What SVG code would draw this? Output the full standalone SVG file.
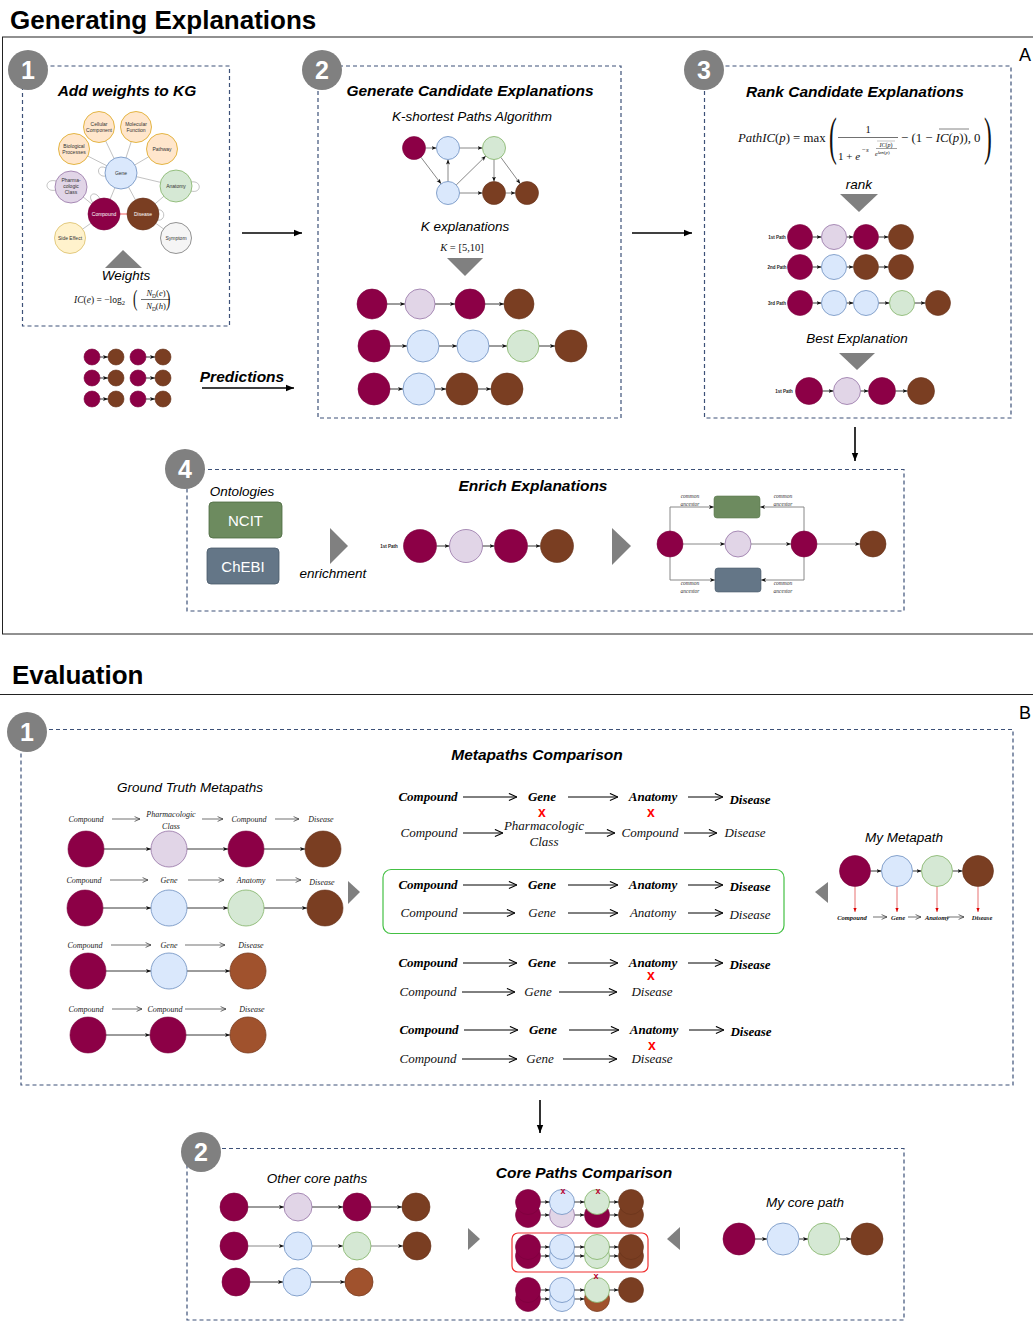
<svg xmlns="http://www.w3.org/2000/svg" width="1033" height="1338" viewBox="0 0 1033 1338">
<defs>
<style>
.sans{font-family:"Liberation Sans",Arial,sans-serif}
.serif{font-family:"Liberation Serif","Times New Roman",serif}
.h1{font-family:"Liberation Sans",Arial,sans-serif;font-size:26px;font-weight:bold;fill:#000}
.ttl{font-family:"Liberation Sans",Arial,sans-serif;font-size:15.5px;font-weight:bold;font-style:italic;text-anchor:middle;fill:#000}
.sub{font-family:"Liberation Sans",Arial,sans-serif;font-size:13.5px;font-style:italic;text-anchor:middle;fill:#000}
.dash{fill:none;stroke:#3d5178;stroke-width:1.2;stroke-dasharray:4 3}
.badge circle{fill:#808080}
.badge text{font-family:"Liberation Sans",Arial,sans-serif;font-size:25px;font-weight:bold;fill:#fff;text-anchor:middle}
.tri{fill:#808080}
.cmp{fill:#8c0046;stroke:#7a003d;stroke-width:0.6}
.dis{fill:#7a3e22;stroke:#66331b;stroke-width:0.6}
.dis2{fill:#a0522d;stroke:#7a3e22;stroke-width:0.8}
.gen{fill:#dae8fc;stroke:#6c8ebf;stroke-width:0.8}
.pha{fill:#e1d5e7;stroke:#9673a6;stroke-width:0.8}
.ana{fill:#d5e8d4;stroke:#82b366;stroke-width:0.8}
.org{fill:#ffe6cc;stroke:#d79b00;stroke-width:0.7}
.yel{fill:#fff2cc;stroke:#d6b656;stroke-width:0.7}
.gry{fill:#f5f5f5;stroke:#666;stroke-width:0.7}
.kgt{font-family:"Liberation Sans",Arial,sans-serif;font-size:5px;fill:#333;text-anchor:middle}
.e{stroke:#222;stroke-width:0.9;fill:none;marker-end:url(#ah)}
.eg{stroke:#888;stroke-width:1;fill:none;marker-end:url(#ah)}
.kge{stroke:#999;stroke-width:0.6;fill:none}
.big{stroke:#000;stroke-width:1.6;fill:none;marker-end:url(#bah)}
.oa{stroke:#000;stroke-width:1;fill:none;marker-end:url(#oah)}
.oas{stroke:#333;stroke-width:0.7;fill:none;marker-end:url(#oahs)}
.mb{font-family:"Liberation Serif","Times New Roman",serif;font-size:13px;font-weight:bold;font-style:italic;text-anchor:middle;fill:#000}
.mn{font-family:"Liberation Serif","Times New Roman",serif;font-size:13px;font-style:italic;text-anchor:middle;fill:#111}
.gt{font-family:"Liberation Serif","Times New Roman",serif;font-size:8px;font-style:italic;text-anchor:middle;fill:#222}
.tiny{font-family:"Liberation Sans",Arial,sans-serif;font-size:4.5px;font-weight:bold;text-anchor:middle;fill:#222}
.rx{font-family:"Liberation Sans",Arial,sans-serif;font-size:14px;font-weight:bold;fill:#f00;text-anchor:middle}
.rxs{font-family:"Liberation Sans",Arial,sans-serif;font-size:9px;font-weight:bold;fill:#b8002e;text-anchor:middle}
.ca{font-family:"Liberation Serif","Times New Roman",serif;font-size:5.5px;font-style:italic;fill:#333;text-anchor:middle}
.fm{font-family:"Liberation Serif","Times New Roman",serif;fill:#111}
</style>
<marker id="ah" viewBox="0 0 10 10" refX="10" refY="5" markerWidth="5" markerHeight="5" markerUnits="userSpaceOnUse" orient="auto"><path d="M0,1 L10,5 L0,9 L2.5,5 z" fill="#111"/></marker>
<marker id="bah" viewBox="0 0 10 10" refX="10" refY="5" markerWidth="8" markerHeight="8" markerUnits="userSpaceOnUse" orient="auto"><path d="M0,1 L10,5 L0,9 z" fill="#000"/></marker>
<marker id="oah" viewBox="0 0 10 10" refX="10" refY="5" markerWidth="9" markerHeight="9" markerUnits="userSpaceOnUse" orient="auto"><path d="M1,1 L10,5 L1,9" fill="none" stroke="#000" stroke-width="1.2"/></marker>
<marker id="oahs" viewBox="0 0 10 10" refX="10" refY="5" markerWidth="6" markerHeight="6" markerUnits="userSpaceOnUse" orient="auto"><path d="M1,1 L10,5 L1,9" fill="none" stroke="#333" stroke-width="1.2"/></marker>
<marker id="rah" viewBox="0 0 10 10" refX="10" refY="5" markerWidth="4" markerHeight="4" markerUnits="userSpaceOnUse" orient="auto"><path d="M0,1 L10,5 L0,9 z" fill="#d00"/></marker>
</defs>
<rect width="1033" height="1338" fill="#fff"/>

<g id="section-A">
<text class="h1" x="10" y="29">Generating Explanations</text>
<rect x="2.5" y="37" width="1040" height="597" fill="none" stroke="#222" stroke-width="1"/>
<text class="sans" x="1019" y="61" font-size="18">A</text>
</g>
<g id="section-B">
<text class="h1" x="12" y="684">Evaluation</text>
<line x1="0" y1="694.5" x2="1033" y2="694.5" stroke="#222" stroke-width="1"/>
<text class="sans" x="1019" y="719" font-size="18">B</text>
</g>

<g id="panels">
<rect class="dash" x="22.5" y="66" width="207" height="260"/>
<rect class="dash" x="318" y="66" width="303" height="352"/>
<rect class="dash" x="704.5" y="66" width="306.5" height="352"/>
<rect class="dash" x="187" y="469.5" width="717" height="141.5"/>
<rect class="dash" x="21" y="729.5" width="992" height="355.5"/>
<rect class="dash" x="187" y="1148.5" width="717" height="171.5"/>
</g>

<g id="connectors">
<line class="big" x1="242" y1="233" x2="302" y2="233"/>
<line class="big" x1="632" y1="233" x2="692" y2="233"/>
<line class="big" x1="202" y1="388" x2="294" y2="388"/>
<line class="big" x1="855" y1="427" x2="855" y2="461"/>
<line class="big" x1="540" y1="1100" x2="540" y2="1133"/>

<g class="kge">
<line x1="121" y1="173" x2="99" y2="127"/>
<line x1="121" y1="173" x2="136" y2="127"/>
<line x1="121" y1="173" x2="74" y2="149"/>
<line x1="121" y1="173" x2="162" y2="149"/>
<line x1="121" y1="173" x2="176" y2="186"/>
<line x1="121" y1="173" x2="104" y2="214"/>
<line x1="121" y1="173" x2="143" y2="214"/>
<line x1="71" y1="187" x2="104" y2="214"/>
<line x1="70" y1="238" x2="104" y2="214"/>
<line x1="176" y1="186" x2="143" y2="214"/>
<line x1="176" y1="238" x2="143" y2="214"/>
<path d="M106,168 C96,163 96,178 106,176"/>
<path d="M56,181 C44,178 44,193 56,190"/>
<path d="M191,182 C202,180 202,194 191,191"/>
<path d="M93,203 C86,194 96,190 100,199"/>
<path d="M157,210 C166,208 166,222 157,220"/>
</g>
<line x1="120" y1="214" x2="127" y2="214" stroke="#e33" stroke-width="0.8"/>

<line class="eg" x1="425.5" y1="148" x2="436.5" y2="148"/>
<line class="eg" x1="459.5" y1="148" x2="482.5" y2="148"/>
<line class="eg" x1="420.9" y1="157.2" x2="441.1" y2="183.8"/>
<line class="eg" x1="448" y1="181.5" x2="448" y2="159.5"/>
<line class="eg" x1="456.2" y1="185" x2="485.8" y2="156"/>
<line class="eg" x1="459.5" y1="193" x2="482.5" y2="193"/>
<line class="eg" x1="494" y1="159.5" x2="494" y2="181.5"/>
<line class="eg" x1="500.8" y1="157.3" x2="520.2" y2="183.7"/>
<line class="eg" x1="505.5" y1="193" x2="515.5" y2="193"/>
<line class="e" stroke-width="1.4" x1="387" y1="304" x2="405" y2="304"/>
<line class="e" stroke-width="1.4" x1="435" y1="304" x2="455" y2="304"/>
<line class="e" stroke-width="1.4" x1="485" y1="304" x2="504" y2="304"/>
<line class="e" x1="390" y1="346" x2="407" y2="346"/>
<line class="e" x1="439" y1="346" x2="457" y2="346"/>
<line class="e" x1="489" y1="346" x2="507" y2="346"/>
<line class="e" x1="539" y1="346" x2="555" y2="346"/>
<line class="e" x1="390" y1="389" x2="403" y2="389"/>
<line class="e" x1="435" y1="389" x2="446" y2="389"/>
<line class="e" x1="478" y1="389" x2="491" y2="389"/>
<line class="e" x1="812.5" y1="237" x2="821.5" y2="237"/>
<line class="e" x1="846.5" y1="237" x2="853.5" y2="237"/>
<line class="e" x1="878.5" y1="237" x2="888.5" y2="237"/>
<line class="e" x1="812.5" y1="267" x2="821.5" y2="267"/>
<line class="e" x1="846.5" y1="267" x2="853.5" y2="267"/>
<line class="e" x1="878.5" y1="267" x2="888.5" y2="267"/>
<line class="e" x1="812.5" y1="303" x2="821.5" y2="303"/>
<line class="e" x1="846.5" y1="303" x2="853.5" y2="303"/>
<line class="e" x1="878.5" y1="303" x2="889.5" y2="303"/>
<line class="e" x1="914.5" y1="303" x2="925.5" y2="303"/>
<line class="e" x1="822.5" y1="391" x2="833.5" y2="391"/>
<line class="e" x1="860.5" y1="391" x2="868.5" y2="391"/>
<line class="e" x1="895.5" y1="391" x2="907.5" y2="391"/>
<line class="e" x1="100" y1="357" x2="108" y2="357"/>
<line class="e" x1="146" y1="357" x2="155" y2="357"/>
<line class="e" x1="100" y1="378" x2="108" y2="378"/>
<line class="e" x1="146" y1="378" x2="155" y2="378"/>
<line class="e" x1="100" y1="399" x2="108" y2="399"/>
<line class="e" x1="146" y1="399" x2="155" y2="399"/>
<line class="e" x1="436.5" y1="546" x2="449.5" y2="546"/>
<line class="e" x1="482.5" y1="546" x2="494.5" y2="546"/>
<line class="e" x1="527.5" y1="546" x2="540.5" y2="546"/>
<line class="eg" x1="683" y1="544" x2="725" y2="544"/>
<line class="eg" x1="751" y1="544" x2="791" y2="544"/>
<line class="eg" x1="817" y1="544" x2="860" y2="544"/>
<path class="eg" d="M670,531 V507 H714"/>
<path class="eg" d="M804,531 V507 H760"/>
<path class="eg" d="M670,557 V580 H715"/>
<path class="eg" d="M804,557 V580 H761"/>

<line class="e" x1="104" y1="849" x2="151" y2="849"/>
<line class="e" x1="187" y1="849" x2="228" y2="849"/>
<line class="e" x1="264" y1="849" x2="305" y2="849"/>
<line class="e" x1="103" y1="908" x2="151" y2="908"/>
<line class="e" x1="187" y1="908" x2="228" y2="908"/>
<line class="e" x1="264" y1="908" x2="307" y2="908"/>
<line class="e" x1="106" y1="971" x2="151" y2="971"/>
<line class="e" x1="187" y1="971" x2="230" y2="971"/>
<line class="e" x1="106" y1="1035" x2="150" y2="1035"/>
<line class="e" x1="186" y1="1035" x2="230" y2="1035"/>
<g>
<line class="oas" x1="112" y1="819" x2="140" y2="819"/>
<line class="oas" x1="202" y1="819" x2="223" y2="819"/>
<line class="oas" x1="275" y1="819" x2="299" y2="819"/>
<line class="oas" x1="110" y1="880" x2="148" y2="880"/>
<line class="oas" x1="188" y1="880" x2="224" y2="880"/>
<line class="oas" x1="276" y1="880" x2="301" y2="880"/>
<line class="oas" x1="111" y1="945" x2="151" y2="945"/>
<line class="oas" x1="185" y1="945" x2="225" y2="945"/>
<line class="oas" x1="112" y1="1009" x2="142" y2="1009"/>
<line class="oas" x1="185" y1="1009" x2="226" y2="1009"/>
</g>
<g>
<line class="oa" x1="463" y1="797" x2="517" y2="797"/>
<line class="oa" x1="568" y1="797" x2="618" y2="797"/>
<line class="oa" x1="688" y1="797" x2="723" y2="797"/>
<line class="oa" x1="463" y1="833" x2="503" y2="833"/>
<line class="oa" x1="585" y1="833" x2="615" y2="833"/>
<line class="oa" x1="684" y1="833" x2="717" y2="833"/>
<line class="oa" x1="463" y1="885" x2="517" y2="885"/>
<line class="oa" x1="568" y1="885" x2="618" y2="885"/>
<line class="oa" x1="688" y1="885" x2="723" y2="885"/>
<line class="oa" x1="463" y1="913" x2="515" y2="913"/>
<line class="oa" x1="568" y1="913" x2="618" y2="913"/>
<line class="oa" x1="688" y1="913" x2="723" y2="913"/>
<line class="oa" x1="463" y1="963" x2="517" y2="963"/>
<line class="oa" x1="568" y1="963" x2="618" y2="963"/>
<line class="oa" x1="688" y1="963" x2="723" y2="963"/>
<line class="oa" x1="462" y1="992" x2="515" y2="992"/>
<line class="oa" x1="559" y1="992" x2="617" y2="992"/>
<line class="oa" x1="464" y1="1030" x2="518" y2="1030"/>
<line class="oa" x1="569" y1="1030" x2="619" y2="1030"/>
<line class="oa" x1="689" y1="1030" x2="724" y2="1030"/>
<line class="oa" x1="462" y1="1059" x2="517" y2="1059"/>
<line class="oa" x1="563" y1="1059" x2="617" y2="1059"/>
</g>
<line class="e" x1="870.5" y1="871" x2="881.5" y2="871"/>
<line class="e" x1="912.5" y1="871" x2="921.5" y2="871"/>
<line class="e" x1="952.5" y1="871" x2="962.5" y2="871"/>
<g stroke="#d33" stroke-width="0.7" marker-end="url(#rah)">
<line x1="855" y1="886.5" x2="855" y2="912"/>
<line x1="897" y1="886.5" x2="897" y2="912"/>
<line x1="937" y1="886.5" x2="937" y2="912"/>
<line x1="978" y1="886.5" x2="978" y2="912"/>
</g>
<line class="oas" x1="873" y1="917" x2="887" y2="917"/>
<line class="oas" x1="908" y1="917" x2="921" y2="917"/>
<line class="oas" x1="947" y1="917" x2="964" y2="917"/>

<line class="e" x1="248" y1="1207" x2="284" y2="1207"/>
<line class="e" x1="312" y1="1207" x2="343" y2="1207"/>
<line class="e" x1="371" y1="1207" x2="402" y2="1207"/>
<line class="eg" stroke="#999" x1="248" y1="1246" x2="284" y2="1246"/>
<line class="eg" stroke="#999" x1="312" y1="1246" x2="343" y2="1246"/>
<line class="eg" stroke="#999" x1="371" y1="1246" x2="403" y2="1246"/>
<line class="e" x1="250" y1="1282" x2="283" y2="1282"/>
<line class="e" x1="311" y1="1282" x2="345" y2="1282"/>
<g>
<line class="e" x1="540.5" y1="1215" x2="549.5" y2="1215"/>
<line class="e" x1="574.5" y1="1215" x2="584.5" y2="1215"/>
<line class="e" x1="609.5" y1="1215" x2="618.5" y2="1215"/>
<line class="e" x1="540.5" y1="1256" x2="549.5" y2="1256"/>
<line class="e" x1="574.5" y1="1256" x2="584.5" y2="1256"/>
<line class="e" x1="609.5" y1="1256" x2="618.5" y2="1256"/>
<line class="e" x1="540.5" y1="1299" x2="549.5" y2="1299"/>
<line class="e" x1="574.5" y1="1299" x2="584.5" y2="1299"/>
</g>
<line class="e" x1="755" y1="1239" x2="767" y2="1239"/>
<line class="e" x1="799" y1="1239" x2="808" y2="1239"/>
<line class="e" x1="840" y1="1239" x2="851" y2="1239"/>
</g>

<g class="badge" id="badge-A1"><circle cx="28" cy="70" r="20"/><text x="28" y="79">1</text></g>
<g class="badge" id="badge-A2"><circle cx="322" cy="70" r="20"/><text x="322" y="79">2</text></g>
<g class="badge" id="badge-A3"><circle cx="704" cy="70" r="20"/><text x="704" y="79">3</text></g>
<g class="badge" id="badge-A4"><circle cx="185" cy="469" r="20"/><text x="185" y="478">4</text></g>
<g class="badge" id="badge-B1"><circle cx="27" cy="732" r="20"/><text x="27" y="741">1</text></g>
<g class="badge" id="badge-B2"><circle cx="201" cy="1152" r="20"/><text x="201" y="1161">2</text></g>

<g id="panel-A1">
<text class="ttl" x="127" y="96" font-size="15">Add weights to KG</text>
<g id="kg-cellular"><circle class="org" cx="99" cy="127" r="15.5"/><text class="kgt" x="99" y="125.5">Cellular</text><text class="kgt" x="99" y="131.5">Component</text></g>
<g id="kg-molecular"><circle class="org" cx="136" cy="127" r="15.5"/><text class="kgt" x="136" y="125.5">Molecular</text><text class="kgt" x="136" y="131.5">Function</text></g>
<g id="kg-biological"><circle class="org" cx="74" cy="149" r="15.5"/><text class="kgt" x="74" y="147.5">Biological</text><text class="kgt" x="74" y="153.5">Processes</text></g>
<g id="kg-pathway"><circle class="org" cx="162" cy="149" r="15.5"/><text class="kgt" x="162" y="151">Pathway</text></g>
<g id="kg-gene"><circle class="gen" cx="121" cy="173" r="16"/><text class="kgt" x="121" y="175">Gene</text></g>
<g id="kg-pharma"><circle class="pha" cx="71" cy="187" r="16"/><text class="kgt" x="71" y="182">Pharma-</text><text class="kgt" x="71" y="188">cologic</text><text class="kgt" x="71" y="194">Class</text></g>
<g id="kg-anatomy"><circle class="ana" cx="176" cy="186" r="16"/><text class="kgt" x="176" y="188">Anatomy</text></g>
<g id="kg-compound"><circle class="cmp" cx="104" cy="214" r="16"/><text class="kgt" x="104" y="216" style="fill:#fff">Compound</text></g>
<g id="kg-disease"><circle class="dis" cx="143" cy="214" r="16"/><text class="kgt" x="143" y="216" style="fill:#fff">Disease</text></g>
<g id="kg-side"><circle class="yel" cx="70" cy="238" r="15.5"/><text class="kgt" x="70" y="240">Side Effect</text></g>
<g id="kg-symptom"><circle class="gry" cx="176" cy="238" r="15.5"/><text class="kgt" x="176" y="240">Symptom</text></g>
<polygon class="tri" points="123,250 105,268 142,268"/>
<text class="sub" x="126" y="280" font-size="12.5">Weights</text>
<g id="formula-ic" class="fm">
<text x="74" y="303" font-size="9.5"><tspan font-style="italic">IC</tspan>(<tspan font-style="italic">e</tspan>) = −log<tspan font-size="6.5" dy="2">2</tspan></text>
<text transform="translate(133,306) scale(0.55,1)" font-size="24">(</text>
<text x="156" y="296" font-size="8.5" text-anchor="middle"><tspan font-style="italic">N</tspan><tspan font-size="5.5" dy="1.5">D</tspan><tspan dy="-1.5">(</tspan><tspan font-style="italic">e</tspan>)</text>
<line x1="141" y1="299.5" x2="170" y2="299.5" stroke="#111" stroke-width="0.6"/>
<text x="156" y="309" font-size="8.5" text-anchor="middle"><tspan font-style="italic">N</tspan><tspan font-size="5.5" dy="1.5">D</tspan><tspan dy="-1.5">(</tspan><tspan font-style="italic">h</tspan>)</text>
<text transform="translate(166,306) scale(0.55,1)" font-size="24">)</text>
</g>
</g>

<g id="predictions">
<circle class="cmp" cx="92" cy="357" r="8"/><circle class="dis" cx="116" cy="357" r="8"/><circle class="cmp" cx="138" cy="357" r="8"/><circle class="dis" cx="163" cy="357" r="8"/>
<circle class="cmp" cx="92" cy="378" r="8"/><circle class="dis" cx="116" cy="378" r="8"/><circle class="cmp" cx="138" cy="378" r="8"/><circle class="dis" cx="163" cy="378" r="8"/>
<circle class="cmp" cx="92" cy="399" r="8"/><circle class="dis" cx="116" cy="399" r="8"/><circle class="cmp" cx="138" cy="399" r="8"/><circle class="dis" cx="163" cy="399" r="8"/>
<text class="ttl" x="242" y="382" font-size="16">Predictions</text>
</g>

<g id="panel-A2">
<text class="ttl" x="470" y="96">Generate Candidate Explanations</text>
<text class="sub" x="472" y="121">K-shortest Paths Algorithm</text>
<g id="g2-a"><circle class="cmp" cx="414" cy="148" r="11.5"/></g>
<g id="g2-b"><circle class="gen" cx="448" cy="148" r="11.5"/></g>
<g id="g2-c"><circle class="ana" cx="494" cy="148" r="11.5"/></g>
<g id="g2-d"><circle class="gen" cx="448" cy="193" r="11.5"/></g>
<g id="g2-e"><circle class="dis" cx="494" cy="193" r="11.5"/></g>
<g id="g2-f"><circle class="dis" cx="527" cy="193" r="11.5"/></g>
<text class="sub" x="465" y="231">K explanations</text>
<text class="fm" x="462" y="251" font-size="10.5" text-anchor="middle"><tspan font-style="italic">K</tspan> = [5,10]</text>
<polygon class="tri" points="447,258 483,258 465,276"/>
<g id="p2-row1">
<circle class="cmp" cx="372" cy="304" r="15"/><circle class="pha" cx="420" cy="304" r="15"/><circle class="cmp" cx="470" cy="304" r="15"/><circle class="dis" cx="519" cy="304" r="15"/>
</g>
<g id="p2-row2">
<circle class="cmp" cx="374" cy="346" r="16"/><circle class="gen" cx="423" cy="346" r="16"/><circle class="gen" cx="473" cy="346" r="16"/><circle class="ana" cx="523" cy="346" r="16"/><circle class="dis" cx="571" cy="346" r="16"/>
</g>
<g id="p2-row3">
<circle class="cmp" cx="374" cy="389" r="16"/><circle class="gen" cx="419" cy="389" r="16"/><circle class="dis" cx="462" cy="389" r="16"/><circle class="dis" cx="507" cy="389" r="16"/>
</g>
</g>

<g id="panel-A3">
<text class="ttl" x="855" y="97">Rank Candidate Explanations</text>
<g id="formula-pathic" class="fm">
<text x="738" y="142" font-size="12.8"><tspan font-style="italic">PathIC</tspan>(<tspan font-style="italic">p</tspan>) = max</text>
<text transform="translate(829,154) scale(0.45,1)" font-size="52">(</text>
<text x="868" y="133" font-size="10.5" text-anchor="middle">1</text>
<line x1="838" y1="137.5" x2="898" y2="137.5" stroke="#111" stroke-width="0.6"/>
<text x="838" y="160" font-size="11">1 + <tspan font-style="italic">e</tspan></text>
<text x="862" y="152" font-size="7">−<tspan font-style="italic">s</tspan></text>
<text x="886" y="147" font-size="6" text-anchor="middle"><tspan font-style="italic">IC</tspan>(<tspan font-style="italic">p</tspan>)</text>
<line x1="877" y1="141" x2="895" y2="141" stroke="#888" stroke-width="0.5"/>
<line x1="876" y1="148.5" x2="897" y2="148.5" stroke="#111" stroke-width="0.4"/>
<text x="875" y="156" font-size="6" font-style="italic">e<tspan font-size="5" dy="-2">len</tspan><tspan font-size="5" font-style="normal">(</tspan><tspan font-size="5">p</tspan><tspan font-size="5" font-style="normal">)</tspan></text>
<text x="901" y="142" font-size="12.8">− (1 − <tspan font-style="italic">IC</tspan>(<tspan font-style="italic">p</tspan>)),  0</text>
<line x1="939" y1="129" x2="969" y2="129" stroke="#666" stroke-width="0.8"/>
<text transform="translate(984,154) scale(0.45,1)" font-size="52">)</text>
</g>
<text class="sub" x="859" y="189">rank</text>
<polygon class="tri" points="840,194 878,194 859,212"/>
<g id="p3-row1"><text class="tiny" x="777" y="238.5">1st Path</text>
<circle class="cmp" cx="800" cy="237" r="12.5"/><circle class="pha" cx="834" cy="237" r="12.5"/><circle class="cmp" cx="866" cy="237" r="12.5"/><circle class="dis" cx="901" cy="237" r="12.5"/></g>
<g id="p3-row2"><text class="tiny" x="777" y="268.5">2nd Path</text>
<circle class="cmp" cx="800" cy="267" r="12.5"/><circle class="gen" cx="834" cy="267" r="12.5"/><circle class="dis" cx="866" cy="267" r="12.5"/><circle class="dis" cx="901" cy="267" r="12.5"/></g>
<g id="p3-row3"><text class="tiny" x="777" y="304.5">3rd Path</text>
<circle class="cmp" cx="800" cy="303" r="12.5"/><circle class="gen" cx="834" cy="303" r="12.5"/><circle class="gen" cx="866" cy="303" r="12.5"/><circle class="ana" cx="902" cy="303" r="12.5"/><circle class="dis" cx="938" cy="303" r="12.5"/></g>
<text class="sub" x="857" y="343">Best Explanation</text>
<polygon class="tri" points="839,353 875,353 857,370"/>
<g id="p3-best"><text class="tiny" x="784" y="392.5">1st Path</text>
<circle class="cmp" cx="809" cy="391" r="13.5"/><circle class="pha" cx="847" cy="391" r="13.5"/><circle class="cmp" cx="882" cy="391" r="13.5"/><circle class="dis" cx="921" cy="391" r="13.5"/></g>
</g>

<g id="panel-A4">
<text class="ttl" x="533" y="491">Enrich Explanations</text>
<text class="sub" x="242" y="496">Ontologies</text>
<g id="ncit"><rect x="209" y="502" width="73" height="36" rx="4" fill="#6d8b5f" stroke="#4d6b40" stroke-width="0.8"/><text class="sans" x="245.5" y="525.5" font-size="15" fill="#fff" text-anchor="middle">NCIT</text></g>
<g id="chebi"><rect x="207" y="548" width="72" height="36" rx="4" fill="#647687" stroke="#4a5a6b" stroke-width="0.8"/><text class="sans" x="243" y="571.5" font-size="15" fill="#fff" text-anchor="middle">ChEBI</text></g>
<polygon class="tri" points="330,528 330,564 348,546"/>
<text class="sub" x="333" y="578" font-size="9.5">enrichment</text>
<g id="p4-path"><text class="tiny" x="389" y="547.5">1st Path</text>
<circle class="cmp" cx="420" cy="546" r="16.5"/><circle class="pha" cx="466" cy="546" r="16.5"/><circle class="cmp" cx="511" cy="546" r="16.5"/><circle class="dis" cx="557" cy="546" r="16.5"/></g>
<polygon class="tri" points="612,528 612,565 631,546"/>
<g id="p4-enriched">
<circle class="cmp" cx="670" cy="544" r="13"/><circle class="pha" cx="738" cy="544" r="13"/><circle class="cmp" cx="804" cy="544" r="13"/><circle class="dis" cx="873" cy="544" r="13"/>
<rect x="714" y="496" width="46" height="22" rx="3" fill="#6d8b5f" stroke="#5a7a4d" stroke-width="0.6"/>
<rect x="715" y="568" width="46" height="24" rx="3" fill="#647687" stroke="#4a5a6b" stroke-width="0.6"/>
<text class="ca" x="690" y="498">common</text><text class="ca" x="690" y="505.5">ancestor</text>
<text class="ca" x="783" y="498">common</text><text class="ca" x="783" y="505.5">ancestor</text>
<text class="ca" x="690" y="585">common</text><text class="ca" x="690" y="593">ancestor</text>
<text class="ca" x="783" y="585">common</text><text class="ca" x="783" y="593">ancestor</text>
</g>
</g>

<g id="panel-B1">
<text class="ttl" x="537" y="760">Metapaths Comparison</text>
<text class="sub" x="190" y="792">Ground Truth Metapaths</text>
<g id="gt-row1">
<text class="gt" x="86" y="822">Compound</text><text class="gt" x="171" y="817">Pharmacologic</text><text class="gt" x="171" y="829">Class</text><text class="gt" x="249" y="822">Compound</text><text class="gt" x="321" y="822">Disease</text>
<circle class="cmp" cx="86" cy="849" r="18"/><circle class="pha" cx="169" cy="849" r="18"/><circle class="cmp" cx="246" cy="849" r="18"/><circle class="dis" cx="323" cy="849" r="18"/>
</g>
<g id="gt-row2">
<text class="gt" x="84" y="883">Compound</text><text class="gt" x="169" y="883">Gene</text><text class="gt" x="251" y="883">Anatomy</text><text class="gt" x="322" y="885">Disease</text>
<circle class="cmp" cx="85" cy="908" r="18"/><circle class="gen" cx="169" cy="908" r="18"/><circle class="ana" cx="246" cy="908" r="18"/><circle class="dis" cx="325" cy="908" r="18"/>
</g>
<g id="gt-row3">
<text class="gt" x="85" y="948">Compound</text><text class="gt" x="169" y="948">Gene</text><text class="gt" x="251" y="948">Disease</text>
<circle class="cmp" cx="88" cy="971" r="18"/><circle class="gen" cx="169" cy="971" r="18"/><circle class="dis2" cx="248" cy="971" r="18"/>
</g>
<g id="gt-row4">
<text class="gt" x="86" y="1012">Compound</text><text class="gt" x="165" y="1012">Compound</text><text class="gt" x="252" y="1012">Disease</text>
<circle class="cmp" cx="88" cy="1035" r="18"/><circle class="cmp" cx="168" cy="1035" r="18"/><circle class="dis2" cx="248" cy="1035" r="18"/>
</g>
<polygon class="tri" points="348,881 348,904 360,892"/>

<g id="cmp-1">
<text class="mb" x="428" y="801">Compound</text><text class="mb" x="542" y="801">Gene</text><text class="mb" x="653" y="801">Anatomy</text><text class="mb" x="750" y="804">Disease</text>
<text class="rx" x="542" y="817">x</text><text class="rx" x="651" y="817">x</text>
<text class="mn" x="429" y="837">Compound</text><text class="mn" x="544" y="830">Pharmacologic</text><text class="mn" x="544" y="846">Class</text><text class="mn" x="650" y="837">Compound</text><text class="mn" x="745" y="837">Disease</text>
</g>
<g id="cmp-2">
<rect x="383" y="869.5" width="401" height="64" rx="8" fill="none" stroke="#44c044" stroke-width="1.2"/>
<text class="mb" x="428" y="889">Compound</text><text class="mb" x="542" y="889">Gene</text><text class="mb" x="653" y="889">Anatomy</text><text class="mb" x="750" y="891">Disease</text>
<text class="mn" x="429" y="917">Compound</text><text class="mn" x="542" y="917">Gene</text><text class="mn" x="653" y="917">Anatomy</text><text class="mn" x="750" y="919">Disease</text>
</g>
<g id="cmp-3">
<text class="mb" x="428" y="967">Compound</text><text class="mb" x="542" y="967">Gene</text><text class="mb" x="653" y="967">Anatomy</text><text class="mb" x="750" y="969">Disease</text>
<text class="rx" x="651" y="979.5">x</text>
<text class="mn" x="428" y="996">Compound</text><text class="mn" x="538" y="996">Gene</text><text class="mn" x="652" y="996">Disease</text>
</g>
<g id="cmp-4">
<text class="mb" x="429" y="1034">Compound</text><text class="mb" x="543" y="1034">Gene</text><text class="mb" x="654" y="1034">Anatomy</text><text class="mb" x="751" y="1036">Disease</text>
<text class="rx" x="652" y="1050">x</text>
<text class="mn" x="428" y="1063">Compound</text><text class="mn" x="540" y="1063">Gene</text><text class="mn" x="652" y="1063">Disease</text>
</g>

<polygon class="tri" points="828,882 828,903 815,892"/>
<g id="my-metapath">
<text class="sub" x="904" y="842">My Metapath</text>
<circle class="cmp" cx="855" cy="871" r="15.5"/><circle class="gen" cx="897" cy="871" r="15.5"/><circle class="ana" cx="937" cy="871" r="15.5"/><circle class="dis" cx="978" cy="871" r="15.5"/>
<g class="serif" font-size="6.5" font-weight="bold" font-style="italic" text-anchor="middle" fill="#111">
<text x="852" y="920">Compound</text><text x="898" y="920">Gene</text><text x="937" y="920">Anatomy</text><text x="982" y="920">Disease</text>
</g>
</g>
</g>

<g id="panel-B2">
<text class="sub" x="317" y="1183">Other core paths</text>
<g id="oc-row1"><circle class="cmp" cx="234" cy="1207" r="14"/><circle class="pha" cx="298" cy="1207" r="14"/><circle class="cmp" cx="357" cy="1207" r="14"/><circle class="dis" cx="416" cy="1207" r="14"/></g>
<g id="oc-row2"><circle class="cmp" cx="234" cy="1246" r="14"/><circle class="gen" cx="298" cy="1246" r="14"/><circle class="ana" cx="357" cy="1246" r="14"/><circle class="dis" cx="417" cy="1246" r="14"/></g>
<g id="oc-row3"><circle class="cmp" cx="236" cy="1282" r="14"/><circle class="gen" cx="297" cy="1282" r="14"/><circle class="dis2" cx="359" cy="1282" r="14"/></g>
<polygon class="tri" points="468,1228 468,1250 480,1239"/>

<text class="ttl" x="584" y="1178">Core Paths Comparison</text>
<g id="core-1">
<circle class="cmp" cx="528" cy="1215" r="12.5"/><circle class="pha" cx="562" cy="1215" r="12.5"/><circle class="cmp" cx="597" cy="1215" r="12.5"/><circle class="dis" cx="631" cy="1215" r="12.5"/>
<circle class="cmp" cx="528" cy="1202" r="12.5"/><circle class="gen" cx="562" cy="1202" r="12.5"/><circle class="ana" cx="597" cy="1202" r="12.5"/><circle class="dis" cx="631" cy="1202" r="12.5"/>
<line class="e" x1="540.5" y1="1202" x2="549.5" y2="1202"/><line class="e" x1="574.5" y1="1202" x2="584.5" y2="1202"/><line class="e" x1="609.5" y1="1202" x2="618.5" y2="1202"/>
<text class="rxs" x="563" y="1194">x</text><text class="rxs" x="598" y="1194">x</text>
</g>
<g id="core-2">
<rect x="512" y="1233" width="136" height="39" rx="6" fill="none" stroke="#f03030" stroke-width="1.2"/>
<circle class="cmp" cx="528" cy="1256" r="12.5"/><circle class="gen" cx="562" cy="1256" r="12.5"/><circle class="ana" cx="597" cy="1256" r="12.5"/><circle class="dis" cx="631" cy="1256" r="12.5"/>
<circle class="cmp" cx="528" cy="1247" r="12.5"/><circle class="gen" cx="562" cy="1247" r="12.5"/><circle class="ana" cx="597" cy="1247" r="12.5"/><circle class="dis" cx="631" cy="1247" r="12.5"/>
<line class="e" x1="540.5" y1="1247" x2="549.5" y2="1247"/><line class="e" x1="574.5" y1="1247" x2="584.5" y2="1247"/><line class="e" x1="609.5" y1="1247" x2="618.5" y2="1247"/>
</g>
<g id="core-3">
<circle class="cmp" cx="528" cy="1299" r="12.5"/><circle class="gen" cx="562" cy="1299" r="12.5"/><circle class="dis2" cx="597" cy="1299" r="12.5"/>
<circle class="cmp" cx="528" cy="1290" r="12.5"/><circle class="gen" cx="562" cy="1290" r="12.5"/><circle class="ana" cx="597" cy="1290" r="12.5"/><circle class="dis" cx="631" cy="1290" r="12.5"/>
<line class="e" x1="540.5" y1="1290" x2="549.5" y2="1290"/><line class="e" x1="574.5" y1="1290" x2="584.5" y2="1290"/><line class="e" x1="609.5" y1="1290" x2="618.5" y2="1290"/>
<text class="rxs" x="596" y="1279">x</text>
</g>
<polygon class="tri" points="680,1227 680,1250 667,1239"/>
<g id="my-core-path">
<text class="sub" x="805" y="1207">My core path</text>
<circle class="cmp" cx="739" cy="1239" r="16"/><circle class="gen" cx="783" cy="1239" r="16"/><circle class="ana" cx="824" cy="1239" r="16"/><circle class="dis" cx="867" cy="1239" r="16"/>
</g>
</g>
</svg>
